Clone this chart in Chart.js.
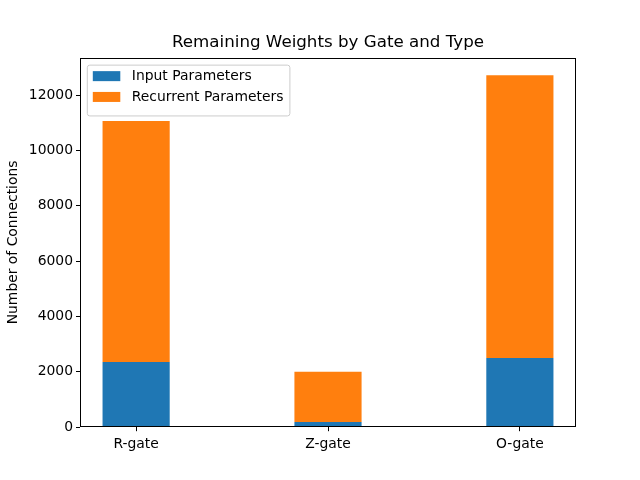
<!DOCTYPE html>
<html>
<head>
<meta charset="utf-8">
<script src="https://cdn.jsdelivr.net/npm/chart.js@4/dist/chart.umd.min.js"></script>
<style>
  html, body { margin: 0; padding: 0; background: #fff; }
  #c { display: block; }
</style>
</head>
<body>
<canvas id="c" width="640" height="480"></canvas>
<script>
const categories = ["R-gate", "Z-gate", "O-gate"];
const inputParams = [2360, 190, 2505];
const recurrentParams = [8710, 1810, 10215];
const yTicks = [0, 2000, 4000, 6000, 8000, 10000, 12000];
const seriesNames = ["Input Parameters", "Recurrent Parameters"];
const seriesColors = ["#1f77b4", "#ff7f0e"];

const totals = categories.map((_, i) => inputParams[i] + recurrentParams[i]);
const yMax = Math.max(...totals) * 1.05;
const barW = 0.35;
const xMin = -barW / 2 - 0.05 * (categories.length - 1 + barW);
const xMax = categories.length - 1 + barW / 2 + 0.05 * (categories.length - 1 + barW);

const FONT = "'DejaVu Sans', sans-serif";
Chart.defaults.color = '#000';
Chart.defaults.font.family = FONT;

const framePlugin = {
  id: 'frame',
  afterDatasetsDraw(chart) {
    const { ctx, chartArea: a } = chart;
    ctx.save();
    ctx.strokeStyle = '#000';
    ctx.lineWidth = 1;
    const l = Math.round(a.left) + 0.5, t = Math.round(a.top) + 0.5;
    const r = Math.round(a.right) - 0.5, b = Math.round(a.bottom) - 0.5;
    ctx.strokeRect(l, t, r - l, b - t);
    ctx.restore();
  }
};

const legendPlugin = {
  id: 'mplLegend',
  afterDraw(chart) {
    const { ctx, chartArea: a } = chart;
    const ds = chart.data.datasets;
    ctx.save();
    ctx.font = "13.9px " + FONT;
    let maxW = 0;
    ds.forEach(d => { maxW = Math.max(maxW, ctx.measureText(d.label).width); });
    const bx = a.left + 7.3, by = a.top + 7.5;
    const patchX = bx + 5.5, patchW = 27.5, patchH = 10;
    const textX = bx + 44.5;
    const rowH = 20.8;
    const bw = textX - bx + maxW + 6.5;
    const bh = 12 + rowH * ds.length - 2.8;
    const rr = 2.5;
    ctx.beginPath();
    ctx.moveTo(bx + rr, by);
    ctx.lineTo(bx + bw - rr, by);
    ctx.quadraticCurveTo(bx + bw, by, bx + bw, by + rr);
    ctx.lineTo(bx + bw, by + bh - rr);
    ctx.quadraticCurveTo(bx + bw, by + bh, bx + bw - rr, by + bh);
    ctx.lineTo(bx + rr, by + bh);
    ctx.quadraticCurveTo(bx, by + bh, bx, by + bh - rr);
    ctx.lineTo(bx, by + rr);
    ctx.quadraticCurveTo(bx, by, bx + rr, by);
    ctx.closePath();
    ctx.fillStyle = 'rgba(255,255,255,0.8)';
    ctx.fill();
    ctx.strokeStyle = '#cccccc';
    ctx.lineWidth = 1;
    ctx.stroke();
    ds.forEach((d, i) => {
      const cy = by + 11 + i * rowH;
      ctx.fillStyle = d.backgroundColor;
      ctx.fillRect(patchX, cy - patchH / 2, patchW, patchH);
      ctx.fillStyle = '#000';
      ctx.textBaseline = 'middle';
      ctx.textAlign = 'left';
      ctx.fillText(d.label, textX, cy + 0.5);
    });
    ctx.restore();
  }
};

new Chart(document.getElementById('c'), {
  type: 'bar',
  data: {
    datasets: [
      {
        label: seriesNames[0],
        data: categories.map((_, i) => ({ x: i, y: inputParams[i] })),
        backgroundColor: seriesColors[0],
        borderWidth: 0
      },
      {
        label: seriesNames[1],
        data: categories.map((_, i) => ({ x: i, y: recurrentParams[i] })),
        backgroundColor: seriesColors[1],
        borderWidth: 0
      }
    ]
  },
  options: {
    responsive: false,
    animation: false,
    devicePixelRatio: 1,
    barPercentage: barW,
    categoryPercentage: 1,
    layout: { padding: { left: 0, right: 64, top: 0, bottom: 0 } },
    plugins: {
      legend: { display: false },
      tooltip: { enabled: false },
      title: {
        display: true,
        fullSize: false,
        text: 'Remaining Weights by Gate and Type',
        color: '#000',
        font: { family: FONT, size: 16.7, weight: 'normal' },
        padding: { top: 33, bottom: 4.6 }
      }
    },
    scales: {
      x: {
        type: 'linear',
        stacked: true,
        offset: false,
        min: xMin,
        max: xMax,
        afterBuildTicks: s => { s.ticks = categories.map((_, i) => ({ value: i })); },
        afterFit: s => { s.height = 52.8; },
        grid: { display: true, offset: false, drawOnChartArea: false, drawTicks: true, tickLength: 4, color: '#000', lineWidth: 1 },
        border: { display: false },
        ticks: {
          padding: 5,
          color: '#000',
          font: { family: FONT, size: 13.9 },
          maxRotation: 0,
          autoSkip: false,
          callback: v => categories[v]
        }
      },
      y: {
        stacked: true,
        min: 0,
        max: yMax,
        afterBuildTicks: s => { s.ticks = yTicks.map(v => ({ value: v })); },
        afterFit: s => { s.width = 80; },
        grid: { display: true, drawOnChartArea: false, drawTicks: true, tickLength: 4, color: '#000', lineWidth: 1 },
        border: { display: false },
        ticks: {
          padding: 3,
          color: '#000',
          font: { family: FONT, size: 13.9 },
          callback: v => String(v)
        },
        title: {
          display: true,
          text: 'Number of Connections',
          color: '#000',
          font: { family: FONT, size: 13.9 },
          padding: { top: 5, bottom: 0 }
        }
      }
    }
  },
  plugins: [framePlugin, legendPlugin]
});
</script>
</body>
</html>
